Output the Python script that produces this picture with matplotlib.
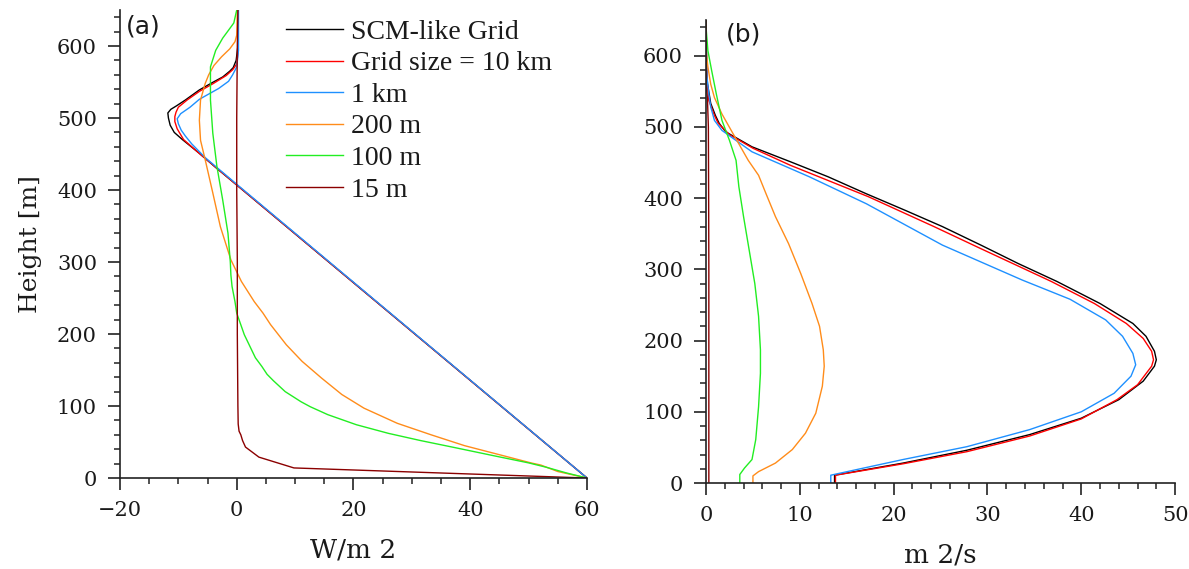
import matplotlib
matplotlib.use("Agg")
import matplotlib.pyplot as plt
from matplotlib.ticker import MultipleLocator

# ---- (a) heat flux profiles [W/m2] vs height [m] ----
scm_a_z = [0, 407, 430, 451, 470, 480, 490, 500, 507, 512, 517, 525, 539, 550, 557, 565, 570, 580, 600, 650]
scm_a_x = [60, 0, -3.4, -6.4, -9.3, -10.7, -11.4, -11.7, -11.8, -11.3, -10.3, -8.8, -6.4, -4.0, -2.4, -1.2, -0.6, -0.1, 0.2, 0.2]

km10_a_z = [0, 407, 450, 470, 485, 495, 502, 508, 515, 525, 537, 548, 559, 567, 575, 590, 650]
km10_a_x = [60, 0, -6.3, -9.1, -10.2, -10.6, -10.6, -10.4, -10.0, -8.5, -6.4, -4.0, -1.8, -0.7, 0.0, 0.2, 0.2]

km1_a_z = [0, 408, 445, 464, 475, 483, 492, 499, 506, 515, 526, 541, 551, 560, 571, 594, 650]
km1_a_x = [60, 0, -5.4, -7.7, -8.8, -9.5, -10.0, -10.2, -9.6, -8.0, -6.4, -3.1, -1.4, -0.7, 0.0, 0.3, 0.3]

m200_a_z = [0, 9, 18, 21, 33, 45, 60, 76, 97, 116, 139, 162, 185, 213, 229, 245, 273, 303, 349, 396,
            442, 469, 497, 525, 548, 560, 573, 585, 596, 606, 615, 650]
m200_a_x = [60, 55.0, 52.1, 50.4, 44.7, 39.0, 33.3, 27.5, 21.8, 18.0, 14.5, 11.2, 8.5, 5.8, 4.5, 3.0, 0.8, -1.0, -2.8, -4.1,
            -5.4, -6.2, -6.4, -6.2, -5.4, -4.8, -3.9, -2.6, -1.2, -0.3, 0.0, 0.1]

m100_a_z = [0, 7, 15, 21, 31, 42, 52, 62, 74, 88, 99, 106, 120, 135, 144, 155, 167, 199, 229, 245, 266, 282,
            300, 340, 386, 433, 479, 525, 571, 594, 611, 622, 632, 650]
m100_a_x = [60, 56.5, 53.0, 50.0, 44.0, 37.5, 31.5, 26.0, 20.5, 15.6, 12.6, 11.0, 8.3, 6.3, 5.2, 4.3, 3.2, 1.3, 0.0, -0.3, -0.8, -1.0,
            -1.1, -1.5, -2.4, -3.4, -4.1, -4.5, -4.5, -3.6, -2.4, -1.4, -0.5, 0.0]

m15_a_z = [0, 14, 29, 43, 52, 60, 65, 75, 100, 200, 300, 400, 500, 600, 650]
m15_a_x = [60, 9.8, 3.8, 1.5, 1.0, 0.7, 0.4, 0.25, 0.2, 0.1, 0.1, 0.0, 0.0, 0.1, 0.2]

# ---- (b) eddy diffusivity [m2/s] vs height [m] ----
scm_b_z = [0, 11, 28, 46, 68, 91, 117, 143, 164, 173, 185, 206, 224, 252, 283, 308, 334, 360, 383, 406,
           430, 451, 472, 493, 505, 516, 533, 561, 584, 650]
scm_b_x = [13.7, 13.7, 21.0, 27.8, 34.5, 40.0, 44.0, 46.6, 47.8, 48.0, 47.8, 46.9, 45.5, 42.0, 37.4, 33.3, 29.3, 25.2, 21.2, 17.1,
           13.0, 9.0, 4.9, 2.1, 1.4, 1.0, 0.5, 0.15, 0.05, 0.0]

km10_b_z = [0, 11, 27, 44, 66, 90, 117, 138, 164, 173, 185, 203, 224, 252, 283, 329, 360, 402, 446, 470,
            489, 505, 516, 537, 565, 650]
km10_b_x = [13.8, 13.8, 21.0, 27.8, 34.5, 40.0, 43.8, 46.0, 47.5, 47.7, 47.5, 46.6, 44.8, 41.4, 36.8, 29.3, 24.3, 17.3, 9.0, 5.0,
            2.5, 1.3, 0.9, 0.3, 0.1, 0.0]

km1_b_z = [0, 11, 33, 51, 75, 100, 126, 150, 166, 182, 206, 229, 258, 285, 334, 392, 430, 465, 495,
           509, 528, 546, 570, 650]
km1_b_x = [13.3, 13.3, 21.0, 27.8, 34.5, 40.0, 43.5, 45.3, 45.8, 45.5, 44.4, 42.6, 38.8, 33.7, 25.2, 17.1, 11.0, 4.9, 1.7,
           0.9, 0.5, 0.3, 0.1, 0.0]

m200_b_z = [0, 10, 16, 28, 47, 70, 98, 136, 164, 187, 220, 252, 294, 336, 374, 406, 432, 453, 490, 518, 541, 560, 584, 607, 650]
m200_b_x = [5.0, 5.0, 5.6, 7.4, 9.2, 10.6, 11.7, 12.4, 12.6, 12.5, 12.1, 11.3, 10.1, 8.8, 7.4, 6.4, 5.6, 4.5, 2.9, 1.7, 0.9, 0.5, 0.2, 0.0, 0.0]

m100_b_z = [0, 12, 21, 33, 61, 107, 154, 187, 234, 280, 327, 374, 416, 453, 481, 509, 546, 579, 607, 640, 650]
m100_b_x = [3.6, 3.6, 4.1, 4.9, 5.3, 5.6, 5.8, 5.8, 5.6, 5.2, 4.6, 4.0, 3.5, 3.2, 2.5, 1.7, 1.1, 0.6, 0.2, 0.0, 0.0]

m15_b_z = [0, 100, 200, 300, 400, 500, 540, 560, 650]
m15_b_x = [0.3, 0.3, 0.3, 0.3, 0.28, 0.25, 0.15, 0.0, 0.0]

labels = ["SCM-like Grid", "Grid size = 10 km", "1 km", "200 m", "100 m", "15 m"]
colors = ["#000000", "#ff0000", "#1e90ff", "#ff8c1a", "#22ee22", "#8b0000"]

panel_a = [(scm_a_x, scm_a_z), (km10_a_x, km10_a_z), (km1_a_x, km1_a_z),
           (m200_a_x, m200_a_z), (m100_a_x, m100_a_z), (m15_a_x, m15_a_z)]
panel_b = [(scm_b_x, scm_b_z), (km10_b_x, km10_b_z), (km1_b_x, km1_b_z),
           (m200_b_x, m200_b_z), (m100_b_x, m100_b_z), (m15_b_x, m15_b_z)]

tick_font = "DejaVu Serif"
text_col = "#1a1a1a"

fig = plt.figure(figsize=(11.89, 5.69), dpi=100)
ax_a = fig.add_axes([0.1009, 0.1599, 0.3928, 0.8225])
ax_b = fig.add_axes([0.5938, 0.1511, 0.3945, 0.8137])


def style_axes(ax):
    for side in ("top", "right"):
        ax.spines[side].set_visible(False)
    for side in ("left", "bottom"):
        ax.spines[side].set_linewidth(1.2)
        ax.spines[side].set_color("#222222")
    ax.tick_params(which="major", direction="out", length=8.5, width=1.2,
                   color="#222222", labelsize=15, labelcolor=text_col, pad=8)
    ax.tick_params(which="minor", direction="out", length=4.3, width=1.1,
                   color="#222222")
    for lab in ax.get_xticklabels() + ax.get_yticklabels():
        lab.set_fontfamily(tick_font)


for (x, z), c, lab in zip(panel_a, colors, labels):
    ax_a.plot(x, z, color=c, lw=1.0, label=lab)
for (x, z), c in zip(panel_b, colors):
    ax_b.plot(x, z, color=c, lw=1.0)

ax_a.set_xlim(-20, 60)
ax_a.set_ylim(0, 650)
ax_a.xaxis.set_major_locator(MultipleLocator(20))
ax_a.xaxis.set_minor_locator(MultipleLocator(5))
ax_a.yaxis.set_major_locator(MultipleLocator(100))
ax_a.yaxis.set_minor_locator(MultipleLocator(20))

ax_b.set_xlim(0, 50)
ax_b.set_ylim(0, 650)
ax_b.xaxis.set_major_locator(MultipleLocator(10))
ax_b.xaxis.set_minor_locator(MultipleLocator(2))
ax_b.yaxis.set_major_locator(MultipleLocator(100))
ax_b.yaxis.set_minor_locator(MultipleLocator(20))

style_axes(ax_a)
style_axes(ax_b)

ax_a.set_ylabel("Height [m]", fontsize=18, family=tick_font, color=text_col, labelpad=11)
ax_a.set_xlabel("W/m 2", fontsize=19, family=tick_font, color=text_col, labelpad=13)
ax_b.set_xlabel("m 2/s", fontsize=19, family=tick_font, color=text_col, labelpad=13)

ax_a.text(0.013, 0.99, "(a)", transform=ax_a.transAxes, fontsize=18,
          family="DejaVu Sans", color=text_col, va="top", ha="left")
ax_b.text(0.042, 0.994, "(b)", transform=ax_b.transAxes, fontsize=18,
          family="DejaVu Sans", color=text_col, va="top", ha="left")

leg = ax_a.legend(loc="upper left", bbox_to_anchor=(0.355, 0.98), frameon=False,
                  prop={"family": "Liberation Serif", "size": 20},
                  handlelength=2.05, handletextpad=0.3, labelspacing=0.22,
                  borderpad=0, borderaxespad=0)
for t in leg.get_texts():
    t.set_color(text_col)

fig.savefig("out.png", dpi=100)
